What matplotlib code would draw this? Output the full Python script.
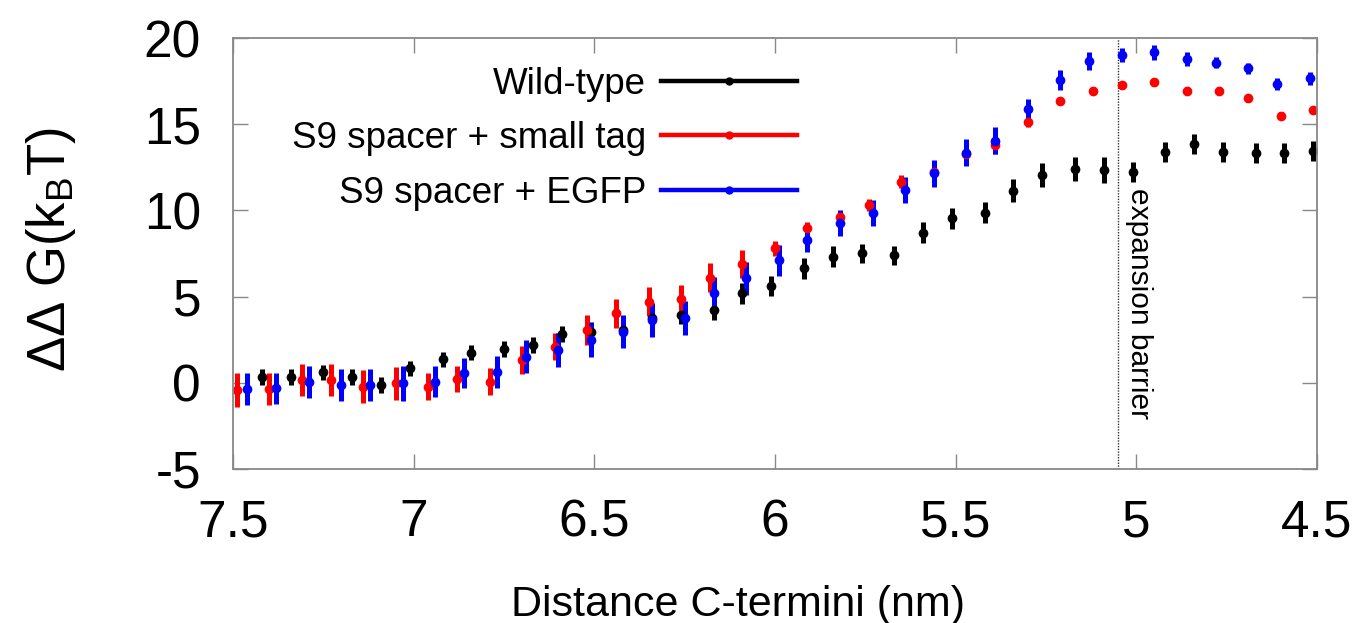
import matplotlib
matplotlib.use("Agg")
import matplotlib.pyplot as plt
from matplotlib.lines import Line2D

plt.rcParams["font.family"] = ["Liberation Sans", "DejaVu Sans"]
plt.rcParams["mathtext.fontset"] = "custom"
plt.rcParams["mathtext.rm"] = "Liberation Sans"
plt.rcParams["mathtext.it"] = "Liberation Sans"
plt.rcParams["axes.unicode_minus"] = False

# distance between C-termini (nm) and free energy (kBT)
wt_x = [7.42, 7.34, 7.25, 7.17, 7.09, 7.01, 6.92, 6.84, 6.75, 6.67, 6.59, 6.51,
        6.42, 6.34, 6.26, 6.17, 6.09, 6.01, 5.92, 5.84, 5.76, 5.67, 5.59, 5.51,
        5.42, 5.34, 5.26, 5.17, 5.09, 5.01, 4.92, 4.84, 4.76, 4.67, 4.59, 4.51]
wt_y = [0.35, 0.35, 0.61, 0.35, -0.13, 0.84, 1.36, 1.75, 1.96, 2.19, 2.83, 2.96,
        3.06, 3.74, 3.95, 4.22, 5.19, 5.61, 6.64, 7.31, 7.51, 7.41, 8.71, 9.54,
        9.87, 11.14, 12.05, 12.38, 12.34, 12.24, 13.40, 13.83, 13.40, 13.35, 13.35, 13.46]
wt_err = [0.45, 0.45, 0.45, 0.45, 0.45, 0.45, 0.45, 0.45, 0.45, 0.45, 0.45, 0.55,
          0.55, 0.55, 0.55, 0.6, 0.6, 0.6, 0.6, 0.6, 0.55, 0.55, 0.63, 0.6,
          0.6, 0.68, 0.7, 0.7, 0.73, 0.58, 0.58, 0.58, 0.58, 0.58, 0.58, 0.58]

tag_x = [7.49, 7.40, 7.31, 7.23, 7.14, 7.05, 6.96, 6.88, 6.79, 6.70, 6.61, 6.52,
         6.44, 6.35, 6.26, 6.18, 6.09, 6.00, 5.91, 5.82, 5.74, 5.65, 5.56, 5.47,
         5.39, 5.30, 5.21, 5.12, 5.04, 4.95, 4.86, 4.77, 4.69, 4.60, 4.51]
tag_y = [-0.42, -0.36, 0.16, 0.16, -0.22, -0.03, -0.22, 0.20, 0.07, 1.32, 2.09, 3.06,
         4.03, 4.70, 4.84, 6.10, 6.88, 7.80, 8.96, 9.64, 10.31, 11.67, 12.25, 13.27,
         13.79, 15.15, 16.36, 16.93, 17.27, 17.43, 16.94, 16.93, 16.50, 15.48, 15.82]
tag_err = [0.99, 0.95, 0.95, 0.92, 0.95, 0.97, 0.77, 0.75, 0.77, 0.8, 0.77, 0.87,
           0.84, 0.84, 0.81, 0.85, 0.82, 0.45, 0.39, 0.31, 0.34, 0.39, 0.48, 0.43,
           0.53, 0.29, 0.2, 0.2, 0.2, 0.2, 0.2, 0.2, 0.2, 0.2, 0.2]

egfp_x = [7.46, 7.38, 7.29, 7.20, 7.12, 7.03, 6.94, 6.86, 6.77, 6.69, 6.60, 6.51,
          6.42, 6.34, 6.25, 6.17, 6.08, 5.99, 5.91, 5.82, 5.73, 5.64, 5.56, 5.47,
          5.39, 5.30, 5.21, 5.13, 5.04, 4.95, 4.86, 4.78, 4.69, 4.61, 4.52]
egfp_y = [-0.36, -0.32, 0.03, -0.13, -0.13, -0.03, 0.07, 0.55, 0.64, 1.51, 1.90, 2.48,
          2.96, 3.64, 3.74, 5.19, 6.06, 7.12, 8.28, 9.25, 9.83, 11.18, 12.15, 13.35,
          14.04, 15.88, 17.56, 18.68, 19.01, 19.17, 18.76, 18.57, 18.24, 17.33, 17.66]
egfp_err = [0.92, 0.91, 0.92, 0.92, 0.94, 1.0, 0.92, 0.87, 0.92, 0.95, 1.0, 0.97,
            0.97, 0.97, 0.99, 0.97, 0.94, 0.9, 0.7, 0.75, 0.75, 0.75, 0.77, 0.77,
            0.77, 0.56, 0.56, 0.53, 0.42, 0.43, 0.41, 0.32, 0.33, 0.36, 0.39]

labels = ["Wild-type", "S9 spacer + small tag", "S9 spacer + EGFP"]
colors = ["#000000", "#ff0000", "#0000ff"]
barrier_x = 5.05

fig = plt.figure(figsize=(13.65, 6.23), dpi=100)
ax = fig.add_axes([0.1707, 0.2472, 0.7941, 0.6918])

series = [(wt_x, wt_y, wt_err), (tag_x, tag_y, tag_err), (egfp_x, egfp_y, egfp_err)]
for (xs, ys, es), c in zip(series, colors):
    ax.errorbar(xs, ys, yerr=es, fmt="o", color=c, ms=7, elinewidth=3.6,
                capsize=0, mew=0)

ax.axvline(barrier_x, color="#333333", lw=1.0, ls=(0, (1, 1)))
ax.text(barrier_x - 0.019, 11.3, "expansion barrier", rotation=-90,
        ha="left", va="top", fontsize=21.5)

ax.set_xlim(7.5, 4.5)
ax.set_ylim(-5, 20)
ax.set_xticks([7.5, 7, 6.5, 6, 5.5, 5, 4.5])
ax.set_xticklabels(["7.5", "7", "6.5", "6", "5.5", "5", "4.5"])
ax.set_yticks([-5, 0, 5, 10, 15, 20])
ax.tick_params(direction="in", length=11, width=1, color="#888888",
               top=True, right=True, labelsize=37)
ax.tick_params(axis="x", pad=21)
ax.tick_params(axis="y", pad=23)
for sp in ax.spines.values():
    sp.set_color("#888888")
    sp.set_linewidth(1.3)

ax.set_xlabel("Distance C-termini (nm)", fontsize=31)
ax.xaxis.set_label_coords(0.466, -0.269)
ax.set_ylabel(r"$\Delta\Delta$ G(k$_{\rm B}$T)", fontsize=38)
ax.yaxis.set_label_coords(-0.143, 0.51)

handles = [Line2D([], [], color=c, lw=3.2, marker="o", ms=5) for c in colors]
ax.legend(handles, labels, loc="upper right", bbox_to_anchor=(0.5375, 0.976),
          frameon=False, markerfirst=False, fontsize=26.5, handlelength=3.7,
          handletextpad=0.4, labelspacing=0.53, borderpad=0, numpoints=1)

fig.savefig("out.png", dpi=100)
